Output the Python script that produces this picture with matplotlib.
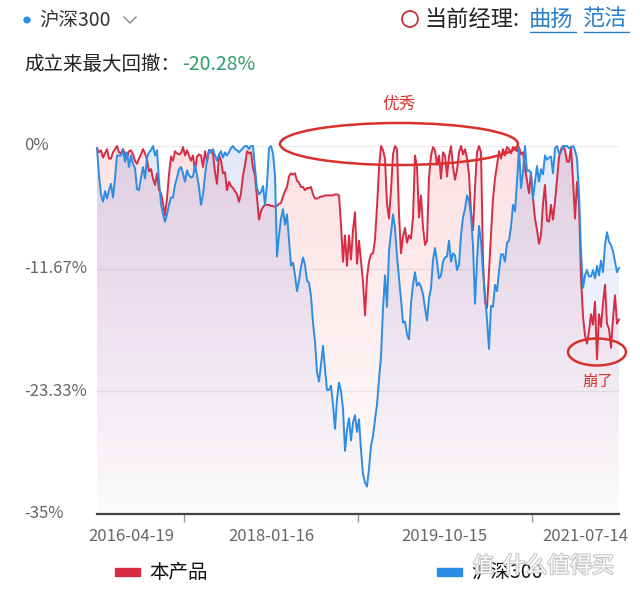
import numpy as np
import pandas as pd
import matplotlib
matplotlib.use("Agg")
import matplotlib.pyplot as plt
import matplotlib.dates as mdates
import matplotlib.transforms as mtransforms
import matplotlib.patheffects as pe
from matplotlib.patches import Ellipse, Polygon, Rectangle, Circle
from matplotlib.lines import Line2D

# 中文字体
plt.rcParams['font.family'] = ['Noto Sans CJK SC', 'DejaVu Sans']
plt.rcParams['axes.unicode_minus'] = False

# 数据: 回撤(%)，从图上读出，正数表示回撤深度
start_date = '2016-04-19'
end_date = '2021-07-14'
date_labels = ['2016-04-19', '2018-01-16', '2019-10-15', '2021-07-14']
y_ticks = [0, -11.67, -23.33, -35]
y_labels = ['0%', '-11.67%', '-23.33%', '-35%']
series_names = ['本产品', '沪深300']

fund_dd = [
    0.2, 0.6, 0.4, 1.1, 0.7, 0.3, 1.2, 1.2, 0.6, 0.3,
    0.0, 0.6, 0.7, 0.3, 0.7, 1.1, 0.5, 0.4, 0.8, 1.4,
    1.7, 1.2, 0.8, 0.3, 0.7, 1.3, 2.4, 2.2, 3.1, 3.7,
    2.6, 4.2, 4.5, 5.4, 6.6, 5.0, 2.7, 1.0, 1.4, 0.5,
    0.7, 0.8, 0.7, 0.1, 0.9, 0.4, 0.9, 1.4, 0.9, 2.4,
    1.0, 0.8, 0.9, 2.0, 0.5, 1.5, 0.4, 0.4, 0.8, 2.5,
    3.6, 0.8, 1.4, 2.6, 2.5, 4.2, 3.4, 3.8, 4.0, 4.3,
    4.6, 5.3, 4.5, 2.8, 1.8, 0.5, 0.7, 0.6, 2.1, 2.8,
    4.9, 7.0, 6.2, 5.8, 5.6, 5.6, 5.6, 5.7, 5.7, 5.8,
    5.7, 5.5, 5.4, 4.8, 4.3, 3.9, 2.9, 2.6, 2.7, 2.6,
    3.3, 3.5, 3.9, 3.9, 4.2, 4.0, 4.0, 3.9, 4.6, 5.0,
    5.0, 4.9, 4.8, 4.8, 4.7, 4.7, 4.7, 4.7, 4.7, 4.6,
    4.6, 4.7, 7.5, 11.0, 8.5, 11.4, 8.5, 10.8, 8.0, 6.3,
    11.2, 9.0, 11.0, 12.9, 16.1, 12.5, 11.0, 10.3, 10.2, 8.9,
    5.8, 2.1, 0.0, 0.4, 1.2, 5.5, 6.9, 4.2, 0.8, 0.0,
    0.3, 6.5, 10.2, 8.6, 7.8, 9.2, 8.5, 8.8, 6.8, 0.9,
    2.0, 6.8, 4.7, 7.7, 9.4, 9.0, 3.0, 0.9, 0.1, 0.4,
    1.8, 0.9, 3.1, 0.6, 0.9, 2.9, 1.0, 0.0, 2.0, 3.2,
    2.3, 0.6, 0.0, 0.8, 0.3, 1.2, 2.7, 6.3, 8.0, 4.0,
    0.6, 0.0, 0.6, 10.8, 14.8, 15.4, 11.8, 8.4, 5.0, 3.1,
    1.8, 0.5, 1.2, 0.3, 0.9, 0.1, 0.3, 0.7, 0.1, 0.2,
    0.5, 0.1, 0.8, 0.6, 2.1, 3.3, 4.5, 2.5, 5.0, 6.9,
    8.0, 9.3, 8.5, 5.5, 3.7, 7.1, 7.2, 5.6, 7.0, 5.3,
    3.2, 1.1, 0.3, 0.0, 0.4, 1.5, 1.5, 0.1, 3.3, 6.9,
    3.4, 5.5, 12.5, 16.2, 18.0, 18.8, 17.6, 16.0, 17.0, 14.8,
    20.28, 16.0, 17.2, 15.0, 13.2, 16.9, 17.4, 19.2, 16.4, 14.2,
    16.9, 16.5,
]

hs300_dd = [
    0.2, 2.8, 4.6, 5.3, 4.3, 5.0, 4.2, 3.6, 4.9, 3.1,
    0.9, 0.9, 0.9, 0.3, 1.5, 0.6, 2.0, 0.9, 1.7, 2.1,
    4.1, 4.2, 3.0, 2.0, 3.1, 1.1, 0.6, 0.4, 0.0, 0.9,
    0.4, 3.3, 5.5, 6.5, 7.2, 6.5, 5.6, 4.9, 4.9, 3.7,
    3.0, 2.2, 2.0, 2.6, 3.4, 2.3, 2.8, 3.0, 2.9, 1.8,
    2.8, 3.9, 5.6, 4.6, 2.8, 1.3, 0.4, 0.6, 0.3, 0.9,
    1.4, 0.8, 0.5, 1.1, 0.6, 0.9, 0.6, 0.2, 0.0, 0.3,
    0.4, 0.6, 0.4, 0.2, 0.0, 0.0, 0.3, 0.0, 0.0, 2.1,
    4.0, 4.6, 4.4, 3.8, 5.6, 3.6, 0.2, 0.0, 0.7, 2.8,
    10.5, 8.5, 6.9, 6.0, 7.5, 6.5, 9.0, 11.4, 11.1, 12.3,
    13.8, 12.8, 11.5, 10.6, 11.3, 12.8, 13.0, 14.3, 16.8, 18.6,
    21.5, 22.4, 20.8, 19.0, 21.2, 23.2, 23.2, 22.8, 24.6, 26.9,
    24.1, 22.5, 23.3, 25.0, 29.0, 27.0, 25.9, 28.0, 26.3, 25.6,
    27.2, 26.0, 28.9, 31.2, 32.0, 32.4, 30.7, 28.5, 27.6, 26.0,
    24.6, 22.2, 20.0, 15.5, 12.3, 15.3, 10.0, 8.2, 6.5, 7.8,
    10.5, 12.5, 14.6, 16.8, 16.7, 17.9, 18.4, 15.0, 13.2, 12.0,
    13.3, 13.0, 13.4, 14.1, 15.4, 16.6, 14.5, 13.5, 10.8, 9.7,
    11.0, 12.6, 12.3, 11.0, 10.6, 10.5, 9.0, 11.0, 10.2, 10.4,
    11.8, 11.3, 8.5, 6.8, 6.0, 4.7, 5.2, 6.6, 9.5, 15.0,
    11.0, 7.6, 9.0, 12.0, 14.2, 16.5, 19.3, 15.2, 15.3, 13.2,
    13.8, 11.9, 10.3, 10.3, 11.0, 9.2, 9.0, 7.7, 5.6, 6.2,
    3.4, 0.2, 4.0, 2.5, 0.0, 2.4, 2.3, 2.6, 5.0, 3.4,
    1.9, 3.4, 2.2, 2.7, 0.9, 1.3, 1.1, 1.0, 2.6, 0.2,
    0.0, 0.7, 0.6, 0.0, 0.0, 0.0, 0.2, 0.1, 0.0, 0.4,
    1.2, 4.5, 10.0, 13.5, 12.3, 11.8, 12.4, 12.4, 11.8, 12.6,
    11.4, 12.3, 10.9, 12.0, 9.4, 8.2, 9.1, 9.4, 10.0, 11.0,
    12.0, 11.6,
]

W, H = 640, 591
RED = '#d82b44'
BLUE = '#2b8de3'


def px(x, y):
    # 像素坐标(左上为原点) -> figure 坐标
    return x / W, 1 - y / H


def grad_fill(ax, xs, ys, rgb, a_top, a_bot, z):
    verts = np.column_stack([np.r_[xs[0], xs, xs[-1]], np.r_[-35, ys, -35]])
    poly = Polygon(verts, closed=True, facecolor='none', edgecolor='none')
    ax.add_patch(poly)
    grad = np.zeros((256, 1, 4))
    grad[..., :3] = rgb
    grad[:, 0, 3] = np.linspace(a_top, a_bot, 256)
    im = ax.imshow(grad, extent=[xs[0], xs[-1], -35, 0], origin='upper',
                   aspect='auto', zorder=z, interpolation='bilinear')
    im.set_clip_path(poly)


fig = plt.figure(figsize=(W / 100, H / 100), dpi=100)
ax = fig.add_axes([97 / W, 1 - 514 / H, 522 / W, 368 / H])

x_fund = mdates.date2num(pd.date_range(start_date, end_date, periods=len(fund_dd)))
x_hs = mdates.date2num(pd.date_range(start_date, end_date, periods=len(hs300_dd)))
y_fund = -np.array(fund_dd)
y_hs = -np.array(hs300_dd)

# 渐变面积
grad_fill(ax, x_fund, y_fund, (0.93, 0.25, 0.33), 0.16, 0.01, 1)
grad_fill(ax, x_hs, y_hs, (0.25, 0.40, 0.85), 0.15, 0.015, 2)

# 网格线
for yv in y_ticks[:-1]:
    ax.axhline(yv, color='#ebebeb', lw=1, zorder=0.5)

ax.plot(x_fund, y_fund, color=RED, lw=1.4, zorder=3, clip_on=False)
ax.plot(x_hs, y_hs, color=BLUE, lw=1.4, zorder=4, clip_on=False)

ax.set_xlim(x_fund[0], x_fund[-1])
ax.set_ylim(-35, 0)

for s in ['top', 'right', 'left']:
    ax.spines[s].set_visible(False)
ax.spines['bottom'].set_color('#444444')
ax.spines['bottom'].set_linewidth(1.6)
ax.set_yticks([])

lab_dates = mdates.date2num(pd.to_datetime(date_labels))
ax.set_xticks(lab_dates)
ax.set_xticklabels(date_labels, fontsize=12, color='#666666')
ax.set_xticks((lab_dates[:-1] + lab_dates[1:]) / 2, minor=True)
ax.tick_params(axis='x', which='major', length=0, pad=10)
ax.tick_params(axis='x', which='minor', length=6, width=1, color='#999999')
labels = ax.get_xticklabels()
labels[0].set_ha('left')
labels[0].set_transform(labels[0].get_transform() +
                        mtransforms.ScaledTranslation(-9 / 100, 0, fig.dpi_scale_trans))
labels[-1].set_ha('right')
labels[-1].set_transform(labels[-1].get_transform() +
                         mtransforms.ScaledTranslation(9 / 100, 0, fig.dpi_scale_trans))

# y 轴标签
trans = mtransforms.blended_transform_factory(fig.transFigure, ax.transData)
for yv, lab in zip(y_ticks, y_labels):
    fig.text(24 / W, yv, lab, transform=trans, ha='left', va='center',
             fontsize=12, color='#666666')

# 顶部信息
fig.patches.append(Circle(px(27, 20), 3 / W, transform=fig.transFigure, color=BLUE))
fig.text(*px(39, 20), '沪深300', fontsize=14, color='#333333', va='center')
fig.lines.append(Line2D([124 / W, 130 / W, 136 / W], [1 - 17 / H, 1 - 23 / H, 1 - 17 / H],
                        transform=fig.transFigure, color='#888888', lw=1))
fig.patches.append(Ellipse(px(410, 19), 16 / W, 16 / H, transform=fig.transFigure,
                           fill=False, edgecolor='#c8323a', lw=1.3))
fig.text(*px(424, 19), '当前经理:', fontsize=16, color='#222222', va='center')
fig.text(*px(529, 19), '曲扬', fontsize=16, color='#2a7fc9', va='center')
fig.text(*px(583, 19), '范洁', fontsize=16, color='#2a7fc9', va='center')
for x0, x1 in [(530, 576), (584, 629)]:
    fig.lines.append(Line2D([x0 / W, x1 / W], [1 - 32 / H, 1 - 32 / H],
                            transform=fig.transFigure, color='#2a7fc9', lw=1))
fig.text(*px(24, 64), '成立来最大回撤：', fontsize=14, color='#222222', va='center')
fig.text(*px(182, 64), '-20.28%', fontsize=14, color='#2e9e6e', va='center')

# 标注
fig.patches.append(Ellipse(px(399, 144), 238 / W, 42 / H, transform=fig.transFigure,
                           fill=False, edgecolor='#d8302c', lw=1.8, zorder=10))
fig.text(*px(399, 104), '优秀', fontsize=12, color='#d8302c', ha='center', va='center')
fig.patches.append(Ellipse(px(597, 352), 58 / W, 27 / H, transform=fig.transFigure,
                           fill=False, edgecolor='#d8302c', lw=1.8, zorder=10))
fig.text(*px(598, 381), '崩了', fontsize=11, color='#d8302c', ha='center', va='center')

# 图例
fig.patches.append(Rectangle(px(115, 576), 25 / W, 8 / H, transform=fig.transFigure, color=RED))
fig.text(*px(149, 572), series_names[0], fontsize=14, color='#111111', va='center')
fig.patches.append(Rectangle(px(437, 576), 25 / W, 8 / H, transform=fig.transFigure, color=BLUE))
fig.text(*px(471, 572), series_names[1], fontsize=14, color='#111111', va='center')

# 水印
wm = [pe.withStroke(linewidth=1.6, foreground='#c4c4c4')]
fig.text(*px(473, 566), '值', fontsize=15, color='white', va='center', path_effects=wm, alpha=0.9)
fig.text(*px(503, 566), '什么值得买', fontsize=16, color='white', va='center', path_effects=wm, alpha=0.9)

fig.savefig('out.png', dpi=100)
